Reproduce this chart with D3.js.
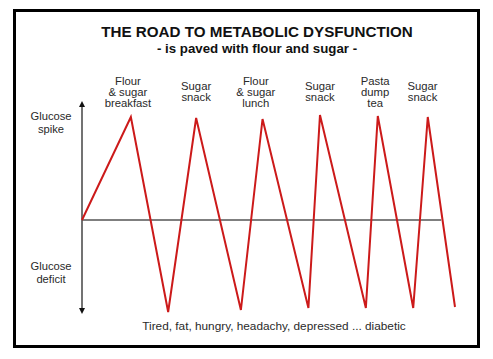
<!DOCTYPE html>
<html><head><meta charset="utf-8">
<script src="https://cdn.jsdelivr.net/npm/d3@7"></script>
<style>body{margin:0;background:#fff}svg{display:block}text{font-family:"Liberation Sans",Arial,sans-serif;fill:#2a2a2a}</style>
</head><body>
<script>
// Data
const times  = [0, 13.1, 23.1, 30.6, 42.6, 48.4, 60.7, 63.8, 76.1, 79.3, 88.8, 92.7, 100];
const glucose = [0, 103, -92, 102, -90, 101, -88, 105, -88, 104, -88, 103, -87];
const mealTimes = [12.3, 30.6, 46.6, 63.8, 78.6, 91.3];
const mealLabels = [["Flour","& sugar","breakfast"],["Sugar","snack"],["Flour","& sugar","lunch"],["Sugar","snack"],["Pasta","dump","tea"],["Sugar","snack"]];
const axisLabels = [["Glucose","spike"],["Glucose","deficit"]];
const title = "THE ROAD TO METABOLIC DYSFUNCTION";
const subtitle = "- is paved with flour and sugar -";
const footer = "Tired, fat, hungry, headachy, depressed ... diabetic";

const W = 493, H = 359;
const svg = d3.select("body").append("svg").attr("width", W).attr("height", H);
const x = d3.scaleLinear().domain([0, 100]).range([82, 455]);
const y = d3.scaleLinear().domain([-100, 100]).range([320, 120]);

svg.append("rect").attr("x", 14.5).attr("y", 10.5).attr("width", 464).attr("height", 336)
  .attr("fill", "none").attr("stroke", "#000").attr("stroke-width", 3);

svg.append("text").attr("x", 257).attr("y", 37).attr("text-anchor", "middle")
  .style("font-size", "15.2px").style("font-weight", "bold").style("fill", "#111").text(title);
svg.append("text").attr("x", 257).attr("y", 53).attr("text-anchor", "middle")
  .style("font-size", "13.3px").style("font-weight", "bold").style("fill", "#111").text(subtitle);

const defs = svg.append("defs");
defs.append("marker").attr("id", "arr").attr("viewBox", "0 0 10 10").attr("refX", 5).attr("refY", 5)
  .attr("markerWidth", 6).attr("markerHeight", 7).attr("orient", "auto-start-reverse")
  .attr("markerUnits", "userSpaceOnUse")
  .append("path").attr("d", "M0,0 L10,5 L0,10 z").attr("fill", "#111");

svg.append("line").attr("x1", x(0)).attr("x2", x(0)).attr("y1", 104).attr("y2", 311)
  .attr("stroke", "#444").attr("stroke-width", 1.5)
  .attr("marker-start", "url(#arr)").attr("marker-end", "url(#arr)");
svg.append("line").attr("x1", x(0)).attr("x2", x(96.3)).attr("y1", y(0)).attr("y2", y(0))
  .attr("stroke", "#555").attr("stroke-width", 1.6);

const pts = times.map((t, i) => [t, glucose[i]]);
svg.append("path").datum(pts)
  .attr("d", d3.line().x(d => x(d[0])).y(d => y(d[1])))
  .attr("fill", "none").attr("stroke", "#cc1a1a").attr("stroke-width", 2).attr("stroke-linejoin", "miter");

mealLabels.forEach((lines, i) => {
  const n = lines.length;
  const base = n === 3 ? 85 : 90;
  const t = svg.append("text").attr("text-anchor", "middle").style("font-size", "11.3px");
  lines.forEach((l, j) => t.append("tspan").attr("x", x(mealTimes[i])).attr("y", base + j * 11).text(l));
});

[[120, axisLabels[0]], [270, axisLabels[1]]].forEach(([b, lines]) => {
  const t = svg.append("text").attr("text-anchor", "middle").style("font-size", "11.2px");
  lines.forEach((l, j) => t.append("tspan").attr("x", 51).attr("y", b + j * 13).text(l));
});

svg.append("text").attr("x", 274).attr("y", 330).attr("text-anchor", "middle")
  .style("font-size", "11.8px").text(footer);
</script>
</body></html>
